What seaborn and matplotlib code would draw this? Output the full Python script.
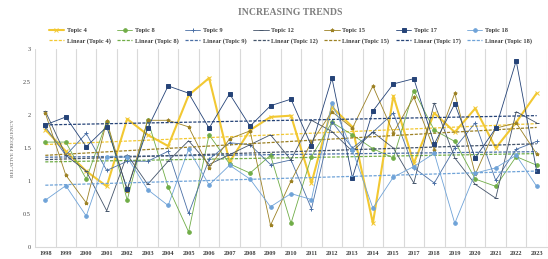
import numpy as np
import pandas as pd
import seaborn as sns
from matplotlib import pyplot as plt

# years on the x axis (2016 is not in the source chart)
years = ['1998', '1999', '2000', '2001', '2002', '2003', '2004', '2005', '2006',
         '2007', '2008', '2009', '2010', '2011', '2012', '2013', '2014', '2015',
         '2017', '2018', '2019', '2020', '2021', '2022', '2023']

topic4 = [1.78, 1.45, 1.15, 0.92, 1.94, 1.70, 1.53, 2.30, 2.56, 1.29, 1.77, 1.97, 1.99,
          0.97, 2.12, 1.82, 0.36, 2.29, 1.27, 2.03, 1.74, 2.10, 1.50, 1.89, 2.33]
topic8 = [1.59, 1.59, 1.03, 1.90, 0.71, 1.93, 0.91, 0.23, 1.70, 1.26, 1.12, 1.39, 0.36,
          1.37, 1.89, 1.70, 1.49, 1.35, 2.37, 1.77, 1.60, 1.03, 0.92, 1.37, 1.24]
topic9 = [1.82, 1.39, 1.72, 1.16, 1.30, 1.30, 1.45, 0.51, 1.33, 1.58, 1.55, 1.25, 1.32,
          0.58, 1.90, 1.50, 1.74, 2.03, 1.20, 0.97, 1.50, 1.88, 1.01, 1.48, 1.60]
topic12 = [2.06, 1.39, 1.15, 0.55, 1.40, 0.95, 1.30, 1.61, 1.25, 1.40, 1.55, 1.70, 1.32,
           1.92, 1.75, 1.45, 1.74, 1.50, 0.97, 2.18, 1.35, 0.95, 0.74, 2.05, 1.88]
topic15 = [2.03, 1.09, 0.67, 1.91, 0.85, 1.92, 1.92, 1.82, 1.20, 1.64, 1.76, 0.33, 1.00,
           1.59, 2.05, 1.80, 2.44, 1.73, 2.27, 1.47, 2.33, 1.10, 1.80, 1.88, 1.41]
topic17 = [1.85, 1.97, 1.52, 1.82, 0.88, 1.80, 2.44, 2.33, 1.80, 2.32, 1.83, 2.14, 2.24,
           1.53, 2.56, 1.05, 2.06, 2.47, 2.55, 1.56, 2.17, 1.35, 1.80, 2.82, 1.15]
topic18 = [0.71, 0.93, 0.47, 1.37, 1.36, 0.87, 0.63, 1.48, 0.94, 1.24, 1.03, 0.61, 0.81,
           0.72, 2.18, 1.47, 0.59, 1.06, 1.22, 1.42, 0.36, 1.12, 1.20, 1.39, 0.92]

series = [
    ('Topic 4', topic4, '#F2C832', 'x', 1.5),
    ('Topic 8', topic8, '#70AD47', 'o', 0.6),
    ('Topic 9', topic9, '#4A6FA5', '+', 0.6),
    ('Topic 12', topic12, '#44546A', '_', 0.6),
    ('Topic 15', topic15, '#9C8124', '*', 0.6),
    ('Topic 17', topic17, '#264478', 's', 0.6),
    ('Topic 18', topic18, '#6FA3D8', 'o', 0.6),
]

sns.set_style('white')
plt.rcParams['font.family'] = ['Liberation Serif', 'DejaVu Serif']

fig = plt.figure(figsize=(5.48, 2.59), dpi=100)
ax = fig.add_axes([0.064, 0.046, 0.934, 0.765])

for name, vals, color, marker, lw in series:
    df = pd.DataFrame({'idx': np.arange(len(years)), 'value': vals})
    sns.lineplot(data=df, x='idx', y='value', color=color, marker=marker, lw=lw,
                 ms=2.6 if marker != 's' else 3.0, mew=0.7, mec=color, label=name, ax=ax)
    sns.regplot(data=df, x='idx', y='value', scatter=False, ci=None, truncate=True,
                color=color, line_kws=dict(ls='--', lw=0.9, dashes=(2.5, 1.2)),
                label=f'Linear ({name})', ax=ax)

handles, labels = ax.get_legend_handles_labels()
ax.get_legend().remove()

ax.set_xlim(-0.5, len(years) - 0.5)
ax.set_ylim(0, 3)
ax.set_xticks(np.arange(len(years)))
ax.set_xticklabels(years, fontsize=4.5, fontweight='bold', color='#404040')
ax.set_xticks(np.arange(-0.5, len(years), 1), minor=True)
ax.set_yticks(np.arange(0, 3.01, 0.5))
ax.set_yticklabels(['0', '0.5', '1', '1.5', '2', '2.5', '3'], fontsize=4.5, color='#404040')
ax.tick_params(axis='both', which='both', length=0, pad=3)
ax.grid(axis='x', which='minor', color='#d9d9d9', lw=0.8)
ax.grid(axis='x', which='major', visible=False)
ax.grid(axis='y', visible=False)
for s in ['top', 'right', 'left']:
    ax.spines[s].set_visible(False)
ax.spines['bottom'].set_color('#d9d9d9')
ax.spines['bottom'].set_linewidth(0.8)
ax.set_xlabel('')
ax.set_ylabel('RELATIVE FREQUENCY', fontsize=3.8, color='#595959', labelpad=6)

fig.text(0.53, 0.952, 'INCREASING TRENDS', ha='center', va='center', fontsize=7,
         fontweight='bold', color='#7f7f7f')
fig.legend(handles, labels, ncol=7, loc='center', bbox_to_anchor=(0.53, 0.862),
           frameon=False, prop=dict(size=4.6, weight='bold'), handlelength=2.4,
           columnspacing=1.0, labelspacing=0.8, handletextpad=0.4, labelcolor='#404040')

fig.savefig('out.png', dpi=100)
